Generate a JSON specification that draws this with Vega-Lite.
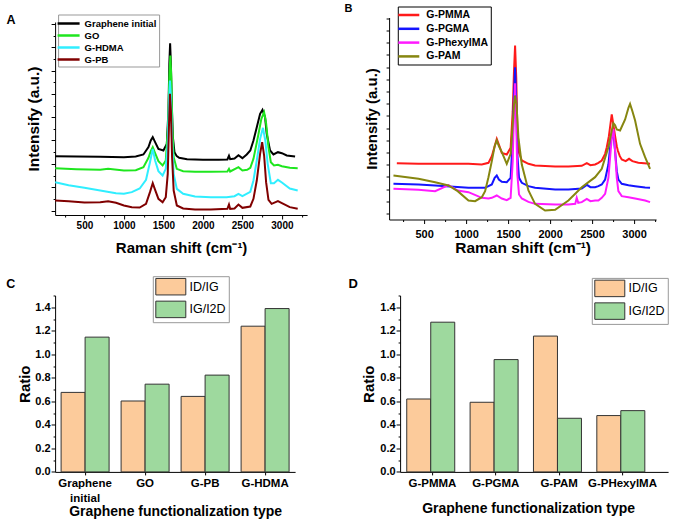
{
  "$schema": "https://vega.github.io/schema/vega-lite/v6.json",
  "background": "white",
  "padding": {"left": 6.1, "top": 2.5, "right": 5, "bottom": 5},
  "config": {
    "view": {"stroke": null},
    "font": "Liberation Sans",
    "axis": {"domainColor": "#000", "tickColor": "#000", "labelColor": "#000", "titleColor": "#000", "labelFont": "Liberation Sans", "titleFont": "Liberation Sans", "labelFontWeight": "bold", "titleFontWeight": "bold", "grid": false, "domainWidth": 1, "tickWidth": 1},
    "legend": {"labelFont": "Liberation Sans", "labelFontWeight": "bold", "labelColor": "#000"},
    "title": {"font": "Liberation Sans", "fontWeight": "bold", "color": "#000", "anchor": "start", "frame": "group", "align": "left", "baseline": "top", "offset": 0}
  },
  "datasets": {
    "spectraA": [
      {"sample":"Graphene initial","shift":130,"intensity":163},{"sample":"Graphene initial","shift":400,"intensity":162},{"sample":"Graphene initial","shift":700,"intensity":161},{"sample":"Graphene initial","shift":1000,"intensity":160},{"sample":"Graphene initial","shift":1150,"intensity":162},{"sample":"Graphene initial","shift":1247,"intensity":168},{"sample":"Graphene initial","shift":1311,"intensity":190},{"sample":"Graphene initial","shift":1340,"intensity":210},{"sample":"Graphene initial","shift":1365,"intensity":220},{"sample":"Graphene initial","shift":1395,"intensity":205},{"sample":"Graphene initial","shift":1437,"intensity":185},{"sample":"Graphene initial","shift":1500,"intensity":180},{"sample":"Graphene initial","shift":1543,"intensity":200},{"sample":"Graphene initial","shift":1564,"intensity":300},{"sample":"Graphene initial","shift":1575,"intensity":440},{"sample":"Graphene initial","shift":1585,"intensity":502},{"sample":"Graphene initial","shift":1595,"intensity":440},{"sample":"Graphene initial","shift":1606,"intensity":320},{"sample":"Graphene initial","shift":1620,"intensity":220},{"sample":"Graphene initial","shift":1640,"intensity":175},{"sample":"Graphene initial","shift":1669,"intensity":163},{"sample":"Graphene initial","shift":1700,"intensity":158},{"sample":"Graphene initial","shift":1800,"intensity":154},{"sample":"Graphene initial","shift":2000,"intensity":152},{"sample":"Graphene initial","shift":2200,"intensity":152},{"sample":"Graphene initial","shift":2310,"intensity":153},{"sample":"Graphene initial","shift":2330,"intensity":164},{"sample":"Graphene initial","shift":2345,"intensity":154},{"sample":"Graphene initial","shift":2400,"intensity":156},{"sample":"Graphene initial","shift":2450,"intensity":166},{"sample":"Graphene initial","shift":2500,"intensity":157},{"sample":"Graphene initial","shift":2555,"intensity":168},{"sample":"Graphene initial","shift":2600,"intensity":180},{"sample":"Graphene initial","shift":2640,"intensity":210},{"sample":"Graphene initial","shift":2682,"intensity":250},{"sample":"Graphene initial","shift":2724,"intensity":290},{"sample":"Graphene initial","shift":2754,"intensity":302},{"sample":"Graphene initial","shift":2787,"intensity":280},{"sample":"Graphene initial","shift":2808,"intensity":230},{"sample":"Graphene initial","shift":2850,"intensity":180},{"sample":"Graphene initial","shift":2893,"intensity":168},{"sample":"Graphene initial","shift":2950,"intensity":175},{"sample":"Graphene initial","shift":3000,"intensity":172},{"sample":"Graphene initial","shift":3061,"intensity":165},{"sample":"Graphene initial","shift":3167,"intensity":162},
      {"sample":"GO","shift":130,"intensity":127},{"sample":"GO","shift":400,"intensity":124},{"sample":"GO","shift":700,"intensity":122},{"sample":"GO","shift":800,"intensity":125},{"sample":"GO","shift":1000,"intensity":120},{"sample":"GO","shift":1150,"intensity":121},{"sample":"GO","shift":1247,"intensity":130},{"sample":"GO","shift":1311,"intensity":158},{"sample":"GO","shift":1340,"intensity":178},{"sample":"GO","shift":1365,"intensity":190},{"sample":"GO","shift":1395,"intensity":172},{"sample":"GO","shift":1437,"intensity":148},{"sample":"GO","shift":1490,"intensity":135},{"sample":"GO","shift":1530,"intensity":150},{"sample":"GO","shift":1560,"intensity":260},{"sample":"GO","shift":1575,"intensity":400},{"sample":"GO","shift":1588,"intensity":465},{"sample":"GO","shift":1600,"intensity":400},{"sample":"GO","shift":1612,"intensity":260},{"sample":"GO","shift":1630,"intensity":160},{"sample":"GO","shift":1669,"intensity":125},{"sample":"GO","shift":1750,"intensity":118},{"sample":"GO","shift":1900,"intensity":116},{"sample":"GO","shift":2100,"intensity":116},{"sample":"GO","shift":2310,"intensity":117},{"sample":"GO","shift":2330,"intensity":125},{"sample":"GO","shift":2345,"intensity":117},{"sample":"GO","shift":2450,"intensity":130},{"sample":"GO","shift":2500,"intensity":120},{"sample":"GO","shift":2560,"intensity":122},{"sample":"GO","shift":2600,"intensity":128},{"sample":"GO","shift":2640,"intensity":155},{"sample":"GO","shift":2700,"intensity":225},{"sample":"GO","shift":2740,"intensity":275},{"sample":"GO","shift":2775,"intensity":295},{"sample":"GO","shift":2800,"intensity":262},{"sample":"GO","shift":2830,"intensity":190},{"sample":"GO","shift":2860,"intensity":145},{"sample":"GO","shift":2900,"intensity":135},{"sample":"GO","shift":2950,"intensity":137},{"sample":"GO","shift":3000,"intensity":133},{"sample":"GO","shift":3100,"intensity":128},{"sample":"GO","shift":3200,"intensity":127},
      {"sample":"G-HDMA","shift":130,"intensity":85},{"sample":"G-HDMA","shift":300,"intensity":76},{"sample":"G-HDMA","shift":500,"intensity":68},{"sample":"G-HDMA","shift":700,"intensity":60},{"sample":"G-HDMA","shift":900,"intensity":52},{"sample":"G-HDMA","shift":1000,"intensity":50},{"sample":"G-HDMA","shift":1100,"intensity":55},{"sample":"G-HDMA","shift":1200,"intensity":66},{"sample":"G-HDMA","shift":1280,"intensity":92},{"sample":"G-HDMA","shift":1330,"intensity":145},{"sample":"G-HDMA","shift":1365,"intensity":185},{"sample":"G-HDMA","shift":1395,"intensity":150},{"sample":"G-HDMA","shift":1437,"intensity":118},{"sample":"G-HDMA","shift":1490,"intensity":105},{"sample":"G-HDMA","shift":1530,"intensity":125},{"sample":"G-HDMA","shift":1555,"intensity":200},{"sample":"G-HDMA","shift":1570,"intensity":320},{"sample":"G-HDMA","shift":1583,"intensity":390},{"sample":"G-HDMA","shift":1595,"intensity":340},{"sample":"G-HDMA","shift":1610,"intensity":210},{"sample":"G-HDMA","shift":1630,"intensity":110},{"sample":"G-HDMA","shift":1670,"intensity":65},{"sample":"G-HDMA","shift":1750,"intensity":50},{"sample":"G-HDMA","shift":1900,"intensity":42},{"sample":"G-HDMA","shift":2100,"intensity":40},{"sample":"G-HDMA","shift":2300,"intensity":40},{"sample":"G-HDMA","shift":2400,"intensity":43},{"sample":"G-HDMA","shift":2450,"intensity":50},{"sample":"G-HDMA","shift":2500,"intensity":43},{"sample":"G-HDMA","shift":2600,"intensity":56},{"sample":"G-HDMA","shift":2640,"intensity":90},{"sample":"G-HDMA","shift":2682,"intensity":150},{"sample":"G-HDMA","shift":2724,"intensity":215},{"sample":"G-HDMA","shift":2760,"intensity":248},{"sample":"G-HDMA","shift":2790,"intensity":210},{"sample":"G-HDMA","shift":2820,"intensity":140},{"sample":"G-HDMA","shift":2860,"intensity":82},{"sample":"G-HDMA","shift":2900,"intensity":82},{"sample":"G-HDMA","shift":2950,"intensity":92},{"sample":"G-HDMA","shift":3000,"intensity":84},{"sample":"G-HDMA","shift":3100,"intensity":66},{"sample":"G-HDMA","shift":3200,"intensity":60},
      {"sample":"G-PB","shift":130,"intensity":30},{"sample":"G-PB","shift":300,"intensity":28},{"sample":"G-PB","shift":500,"intensity":24},{"sample":"G-PB","shift":700,"intensity":25},{"sample":"G-PB","shift":800,"intensity":28},{"sample":"G-PB","shift":900,"intensity":23},{"sample":"G-PB","shift":1000,"intensity":15},{"sample":"G-PB","shift":1100,"intensity":10},{"sample":"G-PB","shift":1200,"intensity":9},{"sample":"G-PB","shift":1280,"intensity":20},{"sample":"G-PB","shift":1330,"intensity":55},{"sample":"G-PB","shift":1365,"intensity":82},{"sample":"G-PB","shift":1395,"intensity":62},{"sample":"G-PB","shift":1437,"intensity":35},{"sample":"G-PB","shift":1490,"intensity":25},{"sample":"G-PB","shift":1530,"intensity":40},{"sample":"G-PB","shift":1555,"intensity":110},{"sample":"G-PB","shift":1570,"intensity":250},{"sample":"G-PB","shift":1583,"intensity":350},{"sample":"G-PB","shift":1595,"intensity":300},{"sample":"G-PB","shift":1610,"intensity":160},{"sample":"G-PB","shift":1630,"intensity":60},{"sample":"G-PB","shift":1670,"intensity":15},{"sample":"G-PB","shift":1750,"intensity":6},{"sample":"G-PB","shift":1900,"intensity":3},{"sample":"G-PB","shift":2100,"intensity":3},{"sample":"G-PB","shift":2310,"intensity":5},{"sample":"G-PB","shift":2330,"intensity":18},{"sample":"G-PB","shift":2345,"intensity":5},{"sample":"G-PB","shift":2400,"intensity":6},{"sample":"G-PB","shift":2450,"intensity":18},{"sample":"G-PB","shift":2500,"intensity":8},{"sample":"G-PB","shift":2600,"intensity":12},{"sample":"G-PB","shift":2640,"intensity":35},{"sample":"G-PB","shift":2682,"intensity":90},{"sample":"G-PB","shift":2724,"intensity":170},{"sample":"G-PB","shift":2750,"intensity":205},{"sample":"G-PB","shift":2775,"intensity":165},{"sample":"G-PB","shift":2800,"intensity":85},{"sample":"G-PB","shift":2830,"intensity":32},{"sample":"G-PB","shift":2870,"intensity":20},{"sample":"G-PB","shift":2950,"intensity":28},{"sample":"G-PB","shift":3000,"intensity":22},{"sample":"G-PB","shift":3100,"intensity":10},{"sample":"G-PB","shift":3200,"intensity":5}
    ],
    "spectraB": [
      {"sample":"G-PMMA","shift":175,"intensity":144},{"sample":"G-PMMA","shift":433,"intensity":142},{"sample":"G-PMMA","shift":631,"intensity":142},{"sample":"G-PMMA","shift":1028,"intensity":142},{"sample":"G-PMMA","shift":1187,"intensity":140},{"sample":"G-PMMA","shift":1266,"intensity":145},{"sample":"G-PMMA","shift":1306,"intensity":165},{"sample":"G-PMMA","shift":1340,"intensity":195},{"sample":"G-PMMA","shift":1365,"intensity":217},{"sample":"G-PMMA","shift":1390,"intensity":200},{"sample":"G-PMMA","shift":1425,"intensity":175},{"sample":"G-PMMA","shift":1484,"intensity":170},{"sample":"G-PMMA","shift":1530,"intensity":190},{"sample":"G-PMMA","shift":1555,"intensity":300},{"sample":"G-PMMA","shift":1570,"intensity":420},{"sample":"G-PMMA","shift":1583,"intensity":497},{"sample":"G-PMMA","shift":1597,"intensity":400},{"sample":"G-PMMA","shift":1610,"intensity":250},{"sample":"G-PMMA","shift":1630,"intensity":175},{"sample":"G-PMMA","shift":1663,"intensity":152},{"sample":"G-PMMA","shift":1742,"intensity":142},{"sample":"G-PMMA","shift":1821,"intensity":137},{"sample":"G-PMMA","shift":2060,"intensity":134},{"sample":"G-PMMA","shift":2218,"intensity":134},{"sample":"G-PMMA","shift":2377,"intensity":136},{"sample":"G-PMMA","shift":2437,"intensity":144},{"sample":"G-PMMA","shift":2480,"intensity":138},{"sample":"G-PMMA","shift":2536,"intensity":140},{"sample":"G-PMMA","shift":2575,"intensity":145},{"sample":"G-PMMA","shift":2615,"intensity":152},{"sample":"G-PMMA","shift":2655,"intensity":172},{"sample":"G-PMMA","shift":2675,"intensity":192},{"sample":"G-PMMA","shift":2700,"intensity":225},{"sample":"G-PMMA","shift":2714,"intensity":252},{"sample":"G-PMMA","shift":2734,"intensity":290},{"sample":"G-PMMA","shift":2750,"intensity":265},{"sample":"G-PMMA","shift":2774,"intensity":225},{"sample":"G-PMMA","shift":2794,"intensity":195},{"sample":"G-PMMA","shift":2806,"intensity":182},{"sample":"G-PMMA","shift":2830,"intensity":165},{"sample":"G-PMMA","shift":2853,"intensity":155},{"sample":"G-PMMA","shift":2900,"intensity":150},{"sample":"G-PMMA","shift":2940,"intensity":157},{"sample":"G-PMMA","shift":2980,"intensity":150},{"sample":"G-PMMA","shift":3050,"intensity":145},{"sample":"G-PMMA","shift":3190,"intensity":142},
      {"sample":"G-PGMA","shift":135,"intensity":82},{"sample":"G-PGMA","shift":433,"intensity":80},{"sample":"G-PGMA","shift":631,"intensity":77},{"sample":"G-PGMA","shift":1028,"intensity":70},{"sample":"G-PGMA","shift":1226,"intensity":70},{"sample":"G-PGMA","shift":1306,"intensity":80},{"sample":"G-PGMA","shift":1340,"intensity":100},{"sample":"G-PGMA","shift":1365,"intensity":107},{"sample":"G-PGMA","shift":1390,"intensity":95},{"sample":"G-PGMA","shift":1425,"intensity":88},{"sample":"G-PGMA","shift":1484,"intensity":87},{"sample":"G-PGMA","shift":1530,"intensity":100},{"sample":"G-PGMA","shift":1555,"intensity":220},{"sample":"G-PGMA","shift":1570,"intensity":350},{"sample":"G-PGMA","shift":1583,"intensity":432},{"sample":"G-PGMA","shift":1597,"intensity":330},{"sample":"G-PGMA","shift":1610,"intensity":170},{"sample":"G-PGMA","shift":1630,"intensity":100},{"sample":"G-PGMA","shift":1663,"intensity":85},{"sample":"G-PGMA","shift":1742,"intensity":75},{"sample":"G-PGMA","shift":1821,"intensity":70},{"sample":"G-PGMA","shift":2060,"intensity":65},{"sample":"G-PGMA","shift":2218,"intensity":65},{"sample":"G-PGMA","shift":2377,"intensity":68},{"sample":"G-PGMA","shift":2437,"intensity":79},{"sample":"G-PGMA","shift":2480,"intensity":72},{"sample":"G-PGMA","shift":2536,"intensity":72},{"sample":"G-PGMA","shift":2575,"intensity":75},{"sample":"G-PGMA","shift":2615,"intensity":80},{"sample":"G-PGMA","shift":2655,"intensity":95},{"sample":"G-PGMA","shift":2694,"intensity":140},{"sample":"G-PGMA","shift":2714,"intensity":190},{"sample":"G-PGMA","shift":2734,"intensity":225},{"sample":"G-PGMA","shift":2754,"intensity":230},{"sample":"G-PGMA","shift":2774,"intensity":180},{"sample":"G-PGMA","shift":2794,"intensity":120},{"sample":"G-PGMA","shift":2813,"intensity":95},{"sample":"G-PGMA","shift":2853,"intensity":82},{"sample":"G-PGMA","shift":2933,"intensity":78},{"sample":"G-PGMA","shift":3012,"intensity":75},{"sample":"G-PGMA","shift":3131,"intensity":71},{"sample":"G-PGMA","shift":3190,"intensity":70},
      {"sample":"G-PhexylMA","shift":135,"intensity":67},{"sample":"G-PhexylMA","shift":433,"intensity":64},{"sample":"G-PhexylMA","shift":631,"intensity":60},{"sample":"G-PhexylMA","shift":790,"intensity":78},{"sample":"G-PhexylMA","shift":900,"intensity":62},{"sample":"G-PhexylMA","shift":1028,"intensity":57},{"sample":"G-PhexylMA","shift":1187,"intensity":40},{"sample":"G-PhexylMA","shift":1266,"intensity":38},{"sample":"G-PhexylMA","shift":1306,"intensity":40},{"sample":"G-PhexylMA","shift":1365,"intensity":47},{"sample":"G-PhexylMA","shift":1425,"intensity":38},{"sample":"G-PhexylMA","shift":1484,"intensity":33},{"sample":"G-PhexylMA","shift":1530,"intensity":40},{"sample":"G-PhexylMA","shift":1555,"intensity":150},{"sample":"G-PhexylMA","shift":1570,"intensity":300},{"sample":"G-PhexylMA","shift":1583,"intensity":384},{"sample":"G-PhexylMA","shift":1597,"intensity":260},{"sample":"G-PhexylMA","shift":1610,"intensity":110},{"sample":"G-PhexylMA","shift":1630,"intensity":50},{"sample":"G-PhexylMA","shift":1663,"intensity":38},{"sample":"G-PhexylMA","shift":1742,"intensity":28},{"sample":"G-PhexylMA","shift":1821,"intensity":22},{"sample":"G-PhexylMA","shift":2060,"intensity":20},{"sample":"G-PhexylMA","shift":2218,"intensity":20},{"sample":"G-PhexylMA","shift":2300,"intensity":22},{"sample":"G-PhexylMA","shift":2317,"intensity":40},{"sample":"G-PhexylMA","shift":2335,"intensity":25},{"sample":"G-PhexylMA","shift":2377,"intensity":27},{"sample":"G-PhexylMA","shift":2437,"intensity":37},{"sample":"G-PhexylMA","shift":2480,"intensity":30},{"sample":"G-PhexylMA","shift":2536,"intensity":32},{"sample":"G-PhexylMA","shift":2575,"intensity":32},{"sample":"G-PhexylMA","shift":2615,"intensity":40},{"sample":"G-PhexylMA","shift":2655,"intensity":52},{"sample":"G-PhexylMA","shift":2694,"intensity":100},{"sample":"G-PhexylMA","shift":2714,"intensity":160},{"sample":"G-PhexylMA","shift":2734,"intensity":220},{"sample":"G-PhexylMA","shift":2754,"intensity":247},{"sample":"G-PhexylMA","shift":2774,"intensity":180},{"sample":"G-PhexylMA","shift":2794,"intensity":100},{"sample":"G-PhexylMA","shift":2813,"intensity":60},{"sample":"G-PhexylMA","shift":2853,"intensity":45},{"sample":"G-PhexylMA","shift":2933,"intensity":42},{"sample":"G-PhexylMA","shift":3012,"intensity":38},{"sample":"G-PhexylMA","shift":3131,"intensity":32},{"sample":"G-PhexylMA","shift":3190,"intensity":27},
      {"sample":"G-PAM","shift":135,"intensity":107},{"sample":"G-PAM","shift":433,"intensity":97},{"sample":"G-PAM","shift":631,"intensity":87},{"sample":"G-PAM","shift":790,"intensity":77},{"sample":"G-PAM","shift":900,"intensity":60},{"sample":"G-PAM","shift":1028,"intensity":32},{"sample":"G-PAM","shift":1107,"intensity":30},{"sample":"G-PAM","shift":1187,"intensity":42},{"sample":"G-PAM","shift":1226,"intensity":60},{"sample":"G-PAM","shift":1266,"intensity":102},{"sample":"G-PAM","shift":1306,"intensity":150},{"sample":"G-PAM","shift":1340,"intensity":195},{"sample":"G-PAM","shift":1365,"intensity":212},{"sample":"G-PAM","shift":1390,"intensity":195},{"sample":"G-PAM","shift":1425,"intensity":177},{"sample":"G-PAM","shift":1484,"intensity":142},{"sample":"G-PAM","shift":1530,"intensity":172},{"sample":"G-PAM","shift":1555,"intensity":260},{"sample":"G-PAM","shift":1570,"intensity":320},{"sample":"G-PAM","shift":1583,"intensity":347},{"sample":"G-PAM","shift":1600,"intensity":320},{"sample":"G-PAM","shift":1623,"intensity":220},{"sample":"G-PAM","shift":1663,"intensity":140},{"sample":"G-PAM","shift":1742,"intensity":62},{"sample":"G-PAM","shift":1821,"intensity":22},{"sample":"G-PAM","shift":1940,"intensity":2},{"sample":"G-PAM","shift":2060,"intensity":4},{"sample":"G-PAM","shift":2218,"intensity":32},{"sample":"G-PAM","shift":2377,"intensity":72},{"sample":"G-PAM","shift":2536,"intensity":102},{"sample":"G-PAM","shift":2615,"intensity":127},{"sample":"G-PAM","shift":2694,"intensity":192},{"sample":"G-PAM","shift":2734,"intensity":242},{"sample":"G-PAM","shift":2754,"intensity":264},{"sample":"G-PAM","shift":2774,"intensity":258},{"sample":"G-PAM","shift":2794,"intensity":245},{"sample":"G-PAM","shift":2833,"intensity":242},{"sample":"G-PAM","shift":2893,"intensity":275},{"sample":"G-PAM","shift":2933,"intensity":310},{"sample":"G-PAM","shift":2952,"intensity":322},{"sample":"G-PAM","shift":2980,"intensity":300},{"sample":"G-PAM","shift":3012,"intensity":272},{"sample":"G-PAM","shift":3071,"intensity":202},{"sample":"G-PAM","shift":3131,"intensity":162},{"sample":"G-PAM","shift":3190,"intensity":127}
    ],
    "barsC": [
      {"type":"Graphene initial","ratio":"ID/IG","value":0.676},{"type":"Graphene initial","ratio":"IG/I2D","value":1.146},
      {"type":"GO","ratio":"ID/IG","value":0.603},{"type":"GO","ratio":"IG/I2D","value":0.746},
      {"type":"G-PB","ratio":"ID/IG","value":0.642},{"type":"G-PB","ratio":"IG/I2D","value":0.823},
      {"type":"G-HDMA","ratio":"ID/IG","value":1.239},{"type":"G-HDMA","ratio":"IG/I2D","value":1.389}
    ],
    "barsD": [
      {"type":"G-PMMA","ratio":"ID/IG","value":0.620},{"type":"G-PMMA","ratio":"IG/I2D","value":1.273},
      {"type":"G-PGMA","ratio":"ID/IG","value":0.592},{"type":"G-PGMA","ratio":"IG/I2D","value":0.955},
      {"type":"G-PAM","ratio":"ID/IG","value":1.155},{"type":"G-PAM","ratio":"IG/I2D","value":0.456},
      {"type":"G-PHexylMA","ratio":"ID/IG","value":0.479},{"type":"G-PHexylMA","ratio":"IG/I2D","value":0.521}
    ]
  },
  "vconcat": [
    {
      "hconcat": [
        {
          "width": 252, "height": 193,
          "title": {"text": "A", "fontSize": 12.5, "dx": -48.6, "dy": 16.5},
          "data": {"name": "spectraA"},
          "mark": {"type": "line", "strokeWidth": 2, "clip": true},
          "encoding": {
            "x": {"field": "shift", "type": "quantitative", "scale": {"domain": [129, 3319], "nice": false, "zero": false},
              "axis": {"title": "Raman shift (cm⁻¹)", "values": [250,500,750,1000,1250,1500,1750,2000,2250,2500,2750,3000,3250], "format": "d", "labelExpr": "datum.value % 500 === 0 ? datum.label : ''", "tickSize": {"condition": {"test": "datum.value % 500 === 0", "value": 4}, "value": 2}, "labelFontSize": 10, "labelPadding": 1, "titleFontSize": 15, "titleY": 32.5, "titleBaseline": "middle"}},
            "y": {"field": "intensity", "type": "quantitative", "scale": {"domain": [-13.5, 565.5], "nice": false, "zero": false},
              "axis": {"title": "Intensify (a.u.)", "values": [0,35,70,105,140,175,210,245,280,315,350,385,420,455,490,525,560], "labels": false, "tickSize": {"condition": {"test": "datum.value % 70 === 0", "value": 4}, "value": 2}, "titleFontSize": 15.5, "titleX": -22, "titleBaseline": "middle"}},
            "color": {"field": "sample", "type": "nominal",
              "scale": {"domain": ["Graphene initial", "GO", "G-HDMA", "G-PB"], "range": ["#000000", "#1EE61E", "#30EEFF", "#800000"]},
              "legend": {"title": null, "orient": "none", "legendX": 3, "legendY": -7.5, "strokeColor": "#999", "fillColor": "white", "padding": 2, "symbolType": "M-2,0H2", "symbolSize": 121, "symbolStrokeWidth": 2.5, "symbolOffset": 1.5, "labelFontSize": 9.5, "labelOffset": 9, "rowPadding": 0}}
          }
        },
        {
          "width": 267, "height": 202,
          "title": {"text": "B", "fontSize": 11, "dx": -44.7, "dy": 12},
          "data": {"name": "spectraB"},
          "mark": {"type": "line", "strokeWidth": 2, "clip": true},
          "encoding": {
            "x": {"field": "shift", "type": "quantitative", "scale": {"domain": [83, 3262], "nice": false, "zero": false},
              "axis": {"title": "Raman shift (cm⁻¹)", "values": [250,500,750,1000,1250,1500,1750,2000,2250,2500,2750,3000,3250], "format": "d", "labelExpr": "datum.value % 500 === 0 ? datum.label : ''", "tickSize": {"condition": {"test": "datum.value % 500 === 0", "value": 4}, "value": 2}, "labelFontSize": 11, "labelPadding": 4.5, "titleFontSize": 15.5, "titleY": 27.7, "titleBaseline": "middle"}},
            "y": {"field": "intensity", "type": "quantitative", "scale": {"domain": [-25, 581], "nice": false, "zero": false},
              "axis": {"title": "Intensify (a.u.)", "values": [-6.7,29.9,66.5,103.1,139.7,176.3,212.9,249.5,286.1,322.7,359.3,395.9,432.5,469.1,505.7,542.3,578.9], "labels": false, "tickSize": 3, "titleFontSize": 15, "titleX": -17.3, "titleBaseline": "middle"}},
            "color": {"field": "sample", "type": "nominal",
              "scale": {"domain": ["G-PMMA", "G-PGMA", "G-PhexylMA", "G-PAM"], "range": ["#FF1A1A", "#1414FF", "#FF1AFF", "#868610"]},
              "legend": {"title": null, "orient": "none", "legendX": 8.7, "legendY": -11, "strokeColor": "#000", "fillColor": "white", "padding": 2, "symbolType": "M-2,0H2", "symbolSize": 110.25, "symbolStrokeWidth": 2.5, "symbolOffset": 2.5, "labelFontSize": 10.5, "labelOffset": 11, "rowPadding": 1.8}}
          }
        }
      ],
      "spacing": 82, "bounds": "flush", "center": true,
      "resolve": {"scale": {"color": "independent"}, "legend": {"color": "independent"}}
    },
    {
      "hconcat": [
        {
          "width": 240, "height": 176.4,
          "title": {"text": "C", "fontSize": 12.5, "dx": -48.9, "dy": 19},
          "data": {"name": "barsC"},
          "mark": {"type": "bar", "stroke": "#333", "strokeWidth": 1},
          "encoding": {
            "x": {"field": "type", "type": "nominal", "sort": null, "scale": {"paddingInner": 0.2, "paddingOuter": 0.1},
              "axis": {"title": "Graphene functionalization type", "labelAngle": 0, "labelExpr": "datum.label === 'Graphene initial' ? ['Graphene', 'initial'] : datum.label", "labelLineHeight": 15, "labelFontSize": 11.5, "tickSize": 3, "labelPadding": 3, "titleFontSize": 14, "titleY": 40, "titleBaseline": "middle"}},
            "xOffset": {"field": "ratio", "type": "nominal", "sort": null, "scale": {"paddingInner": 0, "paddingOuter": 0}},
            "y": {"field": "value", "type": "quantitative", "scale": {"domain": [0, 1.5], "nice": false},
              "axis": {"title": "Ratio", "values": [0,0.1,0.2,0.3,0.4,0.5,0.6,0.7,0.8,0.9,1.0,1.1,1.2,1.3,1.4,1.5], "labelExpr": "round(datum.value*10) % 2 === 0 ? format(datum.value, '.1f') : ''", "tickSize": {"condition": {"test": "round(datum.value*10) % 2 === 0", "value": 4}, "value": 2}, "labelFontSize": 11, "labelPadding": 1, "titleFontSize": 15, "titleX": -31, "titleBaseline": "middle"}},
            "color": {"field": "ratio", "type": "nominal",
              "scale": {"domain": ["ID/IG", "IG/I2D"], "range": ["#FCCB9B", "#9ED99E"]},
              "legend": {"title": null, "orient": "none", "legendX": 97.7, "legendY": -19.3, "strokeColor": "#999", "fillColor": "white", "padding": 2.5, "symbolType": "M-2,-1.1H2V1.1H-2Z", "symbolSize": 225, "symbolOffset": 7.5, "symbolStrokeColor": "#333", "symbolStrokeWidth": 1, "labelFontSize": 12.5, "labelFontWeight": "normal", "labelOffset": 10.7, "rowPadding": 0.7}}
          }
        },
        {
          "width": 268, "height": 176.4,
          "title": {"text": "D", "fontSize": 13, "dx": -51.7, "dy": 18},
          "data": {"name": "barsD"},
          "mark": {"type": "bar", "stroke": "#333", "strokeWidth": 1},
          "encoding": {
            "x": {"field": "type", "type": "nominal", "sort": null, "scale": {"paddingInner": 0.19, "paddingOuter": 0.21, "align": 0.25},
              "axis": {"title": "Graphene functionalization type", "labelAngle": 0, "labelFontSize": 11.5, "tickSize": 3, "labelPadding": 3, "titleFontSize": 14, "titleX": 128, "titleY": 37, "titleBaseline": "middle"}},
            "xOffset": {"field": "ratio", "type": "nominal", "sort": null, "scale": {"paddingInner": 0, "paddingOuter": 0}},
            "y": {"field": "value", "type": "quantitative", "scale": {"domain": [0, 1.5], "nice": false},
              "axis": {"title": "Ratio", "values": [0,0.1,0.2,0.3,0.4,0.5,0.6,0.7,0.8,0.9,1.0,1.1,1.2,1.3,1.4,1.5], "labelExpr": "round(datum.value*10) % 2 === 0 ? format(datum.value, '.1f') : ''", "tickSize": {"condition": {"test": "round(datum.value*10) % 2 === 0", "value": 4}, "value": 2}, "labelFontSize": 11, "labelPadding": 1, "titleFontSize": 15, "titleX": -31.3, "titleBaseline": "middle"}},
            "color": {"field": "ratio", "type": "nominal",
              "scale": {"domain": ["ID/IG", "IG/I2D"], "range": ["#FCCB9B", "#9ED99E"]},
              "legend": {"title": null, "orient": "none", "legendX": 191.7, "legendY": -17.6, "strokeColor": "#999", "fillColor": "white", "padding": 2.5, "symbolType": "M-2,-1.1H2V1.1H-2Z", "symbolSize": 225, "symbolOffset": 7.5, "symbolStrokeColor": "#333", "symbolStrokeWidth": 1, "labelFontSize": 12.5, "labelFontWeight": "normal", "labelOffset": 10.7, "rowPadding": 0.7}}
          }
        }
      ],
      "spacing": 105, "bounds": "flush",
      "resolve": {"scale": {"color": "independent"}, "legend": {"color": "independent"}}
    }
  ],
  "spacing": 19,
  "resolve": {"scale": {"color": "independent"}, "legend": {"color": "independent"}}
}
